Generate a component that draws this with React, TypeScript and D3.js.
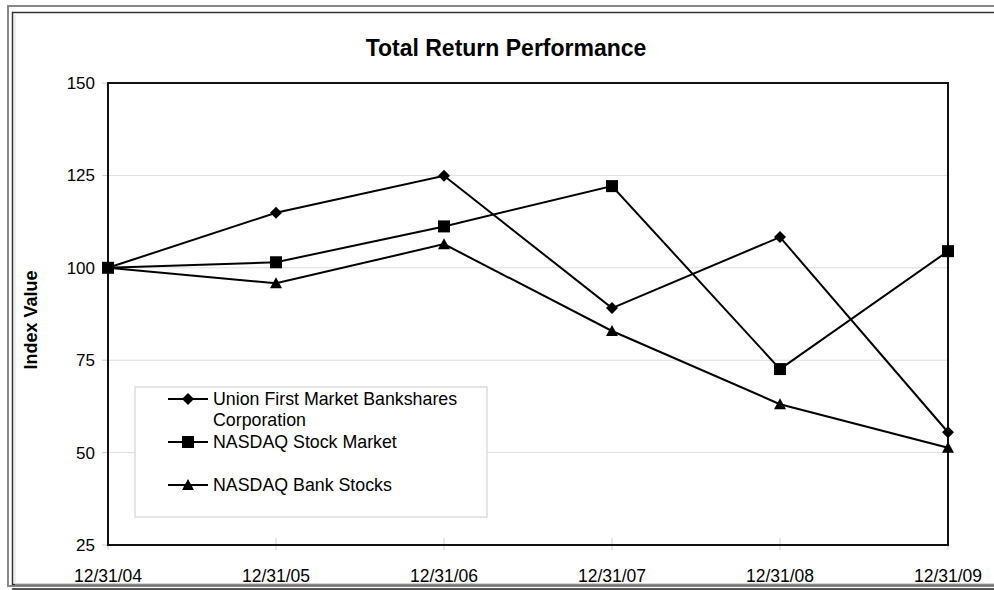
import React from 'react'
import * as d3 from 'd3'

const dates = ['12/31/04', '12/31/05', '12/31/06', '12/31/07', '12/31/08', '12/31/09']
const unionValues = [100, 114.9, 124.9, 89.1, 108.3, 55.5]
const nasdaqValues = [100, 101.5, 111.2, 122.1, 72.6, 104.5]
const bankValues = [100, 95.8, 106.4, 82.9, 63.1, 51.3]
const yTicks = [25, 50, 75, 100, 125, 150]

const seriesNames = ['Union First Market Bankshares|Corporation', 'NASDAQ Stock Market', 'NASDAQ Bank Stocks']
const seriesShapes = ['diamond', 'square', 'triangle']

const width = 994
const height = 590
const margin = { top: 83, left: 108, right: 46, bottom: 45 }
const font = 'Liberation Sans, Arial, sans-serif'

const Marker = ({ shape, x, y }: { shape: string, x: number, y: number }) => {
    if (shape === 'diamond') {
        return <path d={`M${x},${y - 6}L${x + 6},${y}L${x},${y + 6}L${x - 6},${y}Z`} fill="black" />
    }
    if (shape === 'square') {
        return <rect x={x - 6} y={y - 6} width={12} height={12} fill="black" />
    }
    return <path d={`M${x},${y - 6}L${x + 6},${y + 5}L${x - 6},${y + 5}Z`} fill="black" />
}

export default function App() {
    const innerW = width - margin.left - margin.right
    const innerH = height - margin.top - margin.bottom

    const xScale = d3.scalePoint<string>()
        .domain(dates)
        .range([margin.left, margin.left + innerW])

    const yScale = d3.scaleLinear()
        .domain([25, 150])
        .range([margin.top + innerH, margin.top])

    const line = d3.line<number>()
        .x((_, i) => xScale(dates[i]) as number)
        .y(d => yScale(d))

    const allSeries = [unionValues, nasdaqValues, bankValues]
    const bottom = margin.top + innerH
    const right = margin.left + innerW

    return (
        <svg width={width} height={height} style={{ position: 'absolute', left: 0, top: 0, background: 'white' }}>
            {/* outer frame */}
            <rect x={8} y={6} width={990} height={580} fill="none" stroke="#888" strokeWidth={2} />
            <rect x={12.5} y={12.5} width={990} height={572} fill="none" stroke="#333" strokeWidth={1.5} />
            <line x1={15} y1={584} x2={994} y2={584} stroke="#ddd" strokeWidth={1} />
            <line x1={15} y1={15} x2={15} y2={584} stroke="#ddd" strokeWidth={1} />
            <line x1={12} y1={589} x2={994} y2={589} stroke="#555" strokeWidth={2} />

            <text x={506} y={56} textAnchor="middle" fontFamily={font} fontWeight="bold" fontSize={23}>
                Total Return Performance
            </text>

            {/* grid */}
            {yTicks.filter(t => t > 25 && t < 150).map(t => (
                <line key={t} x1={margin.left} x2={right} y1={yScale(t)} y2={yScale(t)} stroke="#ddd" strokeWidth={1} />
            ))}
            {yTicks.map(t => (
                <g key={'yt' + t}>
                    <line x1={margin.left - 6} x2={margin.left} y1={yScale(t)} y2={yScale(t)} stroke="#ccc" />
                    <text x={margin.left - 13} y={yScale(t) + 6} textAnchor="end" fontFamily={font} fontSize={17}>{t}</text>
                </g>
            ))}
            {dates.map(d => (
                <g key={d}>
                    <line x1={xScale(d)} x2={xScale(d)} y1={bottom - 7} y2={bottom + 5} stroke="#ccc" />
                    <text x={xScale(d)} y={bottom + 37} textAnchor="middle" fontFamily={font} fontSize={17.5}>{d}</text>
                </g>
            ))}

            <text transform={`translate(37, ${(margin.top + bottom) / 2 + 6}) rotate(-90)`} textAnchor="middle"
                fontFamily={font} fontWeight="bold" fontSize={18}>Index Value</text>

            {/* plot border */}
            <rect x={margin.left} y={margin.top} width={innerW} height={innerH} fill="none" stroke="#111" strokeWidth={2} />

            {/* legend */}
            <rect x={135} y={387} width={352} height={130} fill="white" stroke="#ccc" strokeWidth={1} />
            {seriesNames.map((name, i) => {
                const ly = [399, 442, 485][i]
                const lines = name.split('|')
                return (
                    <g key={name}>
                        <line x1={168} x2={208} y1={ly} y2={ly} stroke="black" strokeWidth={2} />
                        <Marker shape={seriesShapes[i]} x={188} y={ly} />
                        {lines.map((l, j) => (
                            <text key={l} x={213} y={ly + 6 + j * 21} fontFamily={font} fontSize={17.8}>{l}</text>
                        ))}
                    </g>
                )
            })}

            {/* series */}
            {allSeries.map((values, si) => (
                <g key={si}>
                    <path d={line(values) as string} fill="none" stroke="black" strokeWidth={2} />
                    {values.map((v, i) => (
                        <Marker key={i} shape={seriesShapes[si]} x={xScale(dates[i]) as number} y={yScale(v)} />
                    ))}
                </g>
            ))}
        </svg>
    )
}
